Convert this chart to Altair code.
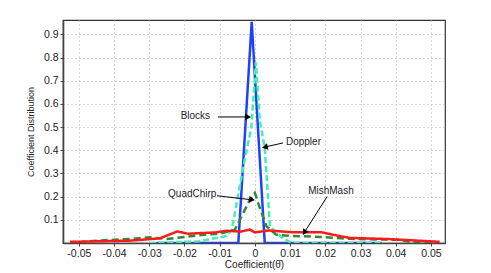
import math
import altair as alt
import pandas as pd

# ---- data ----
blocks_x = [-0.028, -0.015, -0.0047, -0.0009, 0.0028, 0.02, 0.036]
blocks_y = [0, 0, 0, 0.955, 0, 0, 0]

doppler_x = [-0.03, -0.016, -0.008, -0.0065, -0.0034, -0.001, 0.0003, 0.0014, 0.0028, 0.0043, 0.008, 0.0105, 0.02, 0.036]
doppler_y = [0, 0.007, 0.03, 0.06, 0.32, 0.5, 0.78, 0.53, 0.41, 0.07, 0.02, 0, 0, 0]

quad_x = [-0.05, -0.045, -0.035, -0.03, -0.025, -0.02, -0.015, -0.01, -0.0057, -0.0014, 0.0, 0.0014, 0.0033, 0.006, 0.01, 0.0185, 0.027, 0.0355, 0.041, 0.044, 0.05]
quad_y = [0.003, 0.01, 0.018, 0.025, 0.017, 0.026, 0.035, 0.04, 0.057, 0.187, 0.216, 0.152, 0.072, 0.036, 0.031, 0.026, 0.018, 0.015, 0.014, 0.005, 0.0]

mish_x = [-0.0525, -0.0355, -0.027, -0.022, -0.019, -0.011, -0.008, -0.004, -0.0015, 0.0, 0.004, 0.01, 0.019, 0.024, 0.027, 0.038, 0.0525]
mish_y = [0.005, 0.01, 0.02, 0.05, 0.04, 0.046, 0.053, 0.049, 0.058, 0.046, 0.054, 0.047, 0.046, 0.03, 0.022, 0.017, 0.005]

series_names = ["Blocks", "Doppler", "QuadChirp", "MishMash"]
series_colors = ["#2040ff", "#44f0b0", "#2e8b3a", "#ff1a1a"]
series_dash = [[1, 0], [6, 3], [7, 4], [1, 0]]

x_ticks = [-0.05, -0.04, -0.03, -0.02, -0.01, 0.0, 0.01, 0.02, 0.03, 0.04, 0.05]
y_ticks = [0.1, 0.2, 0.3, 0.4, 0.5, 0.6, 0.7, 0.8, 0.9]
x_dom = [-0.0545, 0.054]
y_dom = [0, 0.9625]

ann_label = ["Blocks", "Doppler", "QuadChirp", "MishMash"]
ann_tx = [-0.0169, 0.0138, -0.0178, 0.0216]
ann_ty = [0.549, 0.437, 0.2125, 0.225]
arr_x1 = [-0.0105, 0.008, -0.0108, 0.0205]
arr_y1 = [0.544, 0.432, 0.204, 0.200]
arr_x2 = [-0.0022, 0.0031, -0.0011, 0.0142]
arr_y2 = [0.544, 0.415, 0.187, 0.049]

W, H = 382, 223
FONT = "Liberation Sans"

rows = []
for name, xs, ys in [("Blocks", blocks_x, blocks_y), ("Doppler", doppler_x, doppler_y),
                     ("QuadChirp", quad_x, quad_y), ("MishMash", mish_x, mish_y)]:
    for i, (a, b) in enumerate(zip(xs, ys)):
        rows.append({"series": name, "x": a, "y": b, "i": i})
df = pd.DataFrame(rows)

sx = W / (x_dom[1] - x_dom[0])
sy = H / (y_dom[1] - y_dom[0])
ann = pd.DataFrame({
    "label": ann_label, "tx": ann_tx, "ty": ann_ty,
    "x1": arr_x1, "y1": arr_y1, "x2": arr_x2, "y2": arr_y2,
})
ann["angle"] = [
    (math.degrees(math.atan2((a2 - a1) * sx, (c2 - c1) * sy)) + 360) % 360
    for a1, a2, c1, c2 in zip(arr_x1, arr_x2, arr_y1, arr_y2)
]

xscale = alt.Scale(domain=x_dom, nice=False, zero=False)
yscale = alt.Scale(domain=y_dom, nice=False, zero=False)

xaxis = alt.Axis(values=x_ticks, title="Coefficient(θ̄)",
                 labelExpr="datum.value == 0 ? '0' : replace(format(datum.value, '.2f'), '−', '-')",
                 grid=True, titleFontSize=10, titlePadding=1, labelOverlap=False)
yaxis = alt.Axis(values=y_ticks, title="Coefficient Distribution", format=".1f",
                 grid=True, titleFontSize=9, titlePadding=8, labelOverlap=False)

lines = alt.Chart(df).mark_line(strokeWidth=2.5, clip=True).encode(
    x=alt.X("x:Q", scale=xscale, axis=xaxis),
    y=alt.Y("y:Q", scale=yscale, axis=yaxis),
    color=alt.Color("series:N", scale=alt.Scale(domain=series_names, range=series_colors), legend=None),
    strokeDash=alt.StrokeDash("series:N", scale=alt.Scale(domain=series_names, range=series_dash), legend=None),
    order="i:Q",
    detail="series:N",
)

arrows = alt.Chart(ann).mark_rule(color="black", strokeWidth=1).encode(
    x=alt.X("x1:Q", scale=xscale, axis=xaxis), y=alt.Y("y1:Q", scale=yscale, axis=yaxis),
    x2="x2:Q", y2="y2:Q",
)
heads = alt.Chart(ann).mark_point(shape="triangle", filled=True, color="black", size=45, opacity=1).encode(
    x=alt.X("x2:Q", scale=xscale, axis=xaxis), y=alt.Y("y2:Q", scale=yscale, axis=yaxis),
    angle=alt.Angle("angle:Q", scale=None),
)
texts = alt.Chart(ann).mark_text(font=FONT, fontSize=10, color="#222").encode(
    x=alt.X("tx:Q", scale=xscale, axis=xaxis), y=alt.Y("ty:Q", scale=yscale, axis=yaxis), text="label:N",
)

chart = alt.layer(lines, arrows, heads, texts).properties(
    width=W, height=H,
    autosize=alt.AutoSizeParams(type="none"),
    padding={"left": 55, "top": 12, "right": 30, "bottom": 30},
).configure_view(
    stroke="#333", strokeWidth=1.2,
).configure_axis(
    labelFont=FONT, titleFont=FONT, labelFontSize=10.5, labelColor="#222", titleColor="#222",
    titleFontWeight="normal", domainColor="#444", domainWidth=1.6,
    gridColor="#b0b0b0", gridDash=[1, 3], gridWidth=1, tickColor="#444", tickSize=3,
    labelPadding=2, labelOverlap=False,
)

chart.save("out.html", embed_options={"renderer": "svg", "actions": False})
